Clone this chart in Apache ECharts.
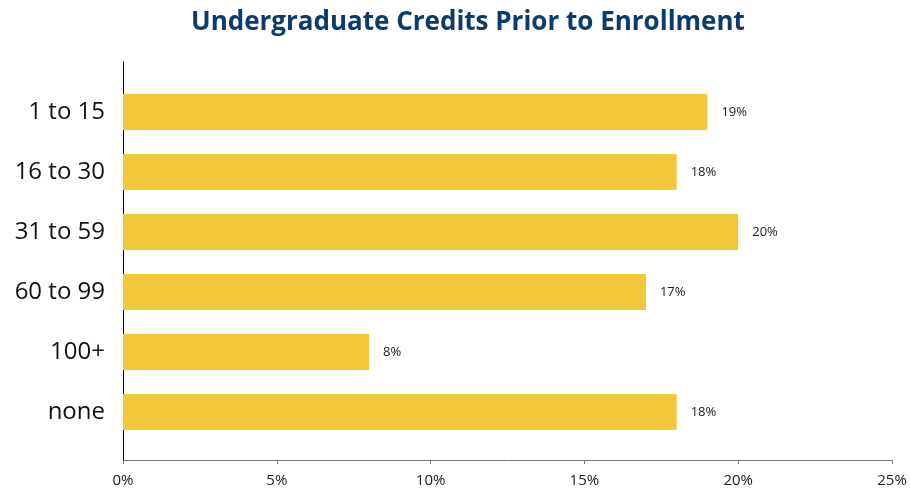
<!DOCTYPE html>
<html>
<head>
<meta charset="utf-8">
<script src="https://cdn.jsdelivr.net/npm/echarts@6/dist/echarts.min.js"></script>
<style>
html,body{margin:0;padding:0;background:#fff;}
#chart{width:910px;height:492px;}
</style>
</head>
<body>
<div id="chart"></div>
<script>
const categories = ['1 to 15', '16 to 30', '31 to 59', '60 to 99', '100+', 'none'];
const percentages = [19, 18, 20, 17, 8, 18];
const tickValues = [0, 5, 10, 15, 20, 25];

const chart = echarts.init(document.getElementById('chart'), null, {renderer: 'canvas'});
const fontFam = '"Open Sans", "Noto Sans", sans-serif';
chart.setOption({
  animation: false,
  backgroundColor: '#ffffff',
  title: {
    text: 'Undergraduate Credits Prior to Enrollment',
    left: 186,
    top: 5,
    textStyle: {fontFamily: fontFam, fontWeight: 'bold', fontSize: 26, color: '#0b3a6d'}
  },
  grid: [
    {left: 123, right: 18, top: 62, bottom: 32},
    {left: 123, right: 18, top: 82, bottom: 50}
  ],
  xAxis: [
    {
      gridIndex: 0, type: 'value', min: tickValues[0], max: tickValues[tickValues.length - 1], interval: 5,
      axisLine: {show: true, lineStyle: {color: '#777', width: 1}},
      axisTick: {show: true, length: 4, lineStyle: {color: '#777'}},
      splitLine: {show: false},
      axisLabel: {formatter: '{value}%', fontFamily: fontFam, fontSize: 15, color: '#222', margin: 13}
    },
    {
      gridIndex: 1, type: 'value', min: tickValues[0], max: tickValues[tickValues.length - 1], interval: 5,
      show: false
    }
  ],
  yAxis: [
    {
      gridIndex: 0, type: 'value', min: 0, max: 1,
      axisLine: {show: true, onZero: false, lineStyle: {color: '#000', width: 1}},
      axisTick: {show: false}, axisLabel: {show: false}, splitLine: {show: false}
    },
    {
      gridIndex: 1, type: 'category', data: categories, inverse: true,
      axisLine: {show: false}, axisTick: {show: false}, splitLine: {show: false},
      axisLabel: {fontFamily: fontFam, fontSize: 24, color: '#111', margin: 18}
    }
  ],
  series: [{
    type: 'bar',
    xAxisIndex: 1,
    yAxisIndex: 1,
    data: percentages,
    barWidth: 36,
    itemStyle: {color: '#f0c83a'},
    label: {
      show: true, position: 'right', distance: 14,
      formatter: '{c}%', fontFamily: fontFam, fontSize: 13, color: '#222'
    }
  }]
});
</script>
</body>
</html>
